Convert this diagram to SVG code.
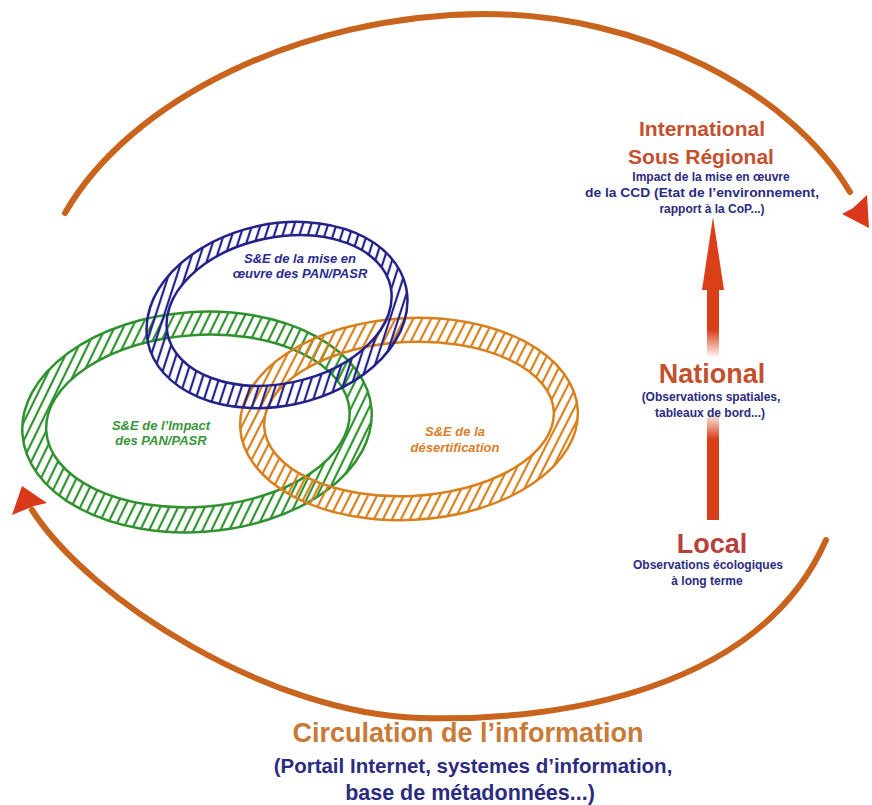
<svg xmlns="http://www.w3.org/2000/svg" width="872" height="805" viewBox="0 0 872 805">
<defs>
<style>
.arc{fill:none;stroke:#c9641f;stroke-width:6;stroke-linecap:round}
.head{fill:#d9381a}
.lvl{font-family:"Liberation Sans",Arial,sans-serif;font-weight:bold;text-anchor:middle}
.big{fill:#c4502e}
.desc{fill:#2b2b80;font-size:12px}
.ring-lbl{font-family:"Liberation Sans",Arial,sans-serif;font-weight:bold;font-style:italic;font-size:13px;text-anchor:middle}
</style>
<pattern id="hb" patternUnits="userSpaceOnUse" width="8" height="8" patternTransform="rotate(30)"><line x1="2" y1="0" x2="2" y2="8" stroke="#22228a" stroke-width="2.2"/></pattern>
<pattern id="hg" patternUnits="userSpaceOnUse" width="8" height="8" patternTransform="rotate(30)"><line x1="2" y1="0" x2="2" y2="8" stroke="#2f922f" stroke-width="2.2"/></pattern>
<pattern id="ho" patternUnits="userSpaceOnUse" width="8" height="8" patternTransform="rotate(30)"><line x1="2" y1="0" x2="2" y2="8" stroke="#d8801e" stroke-width="2.2"/></pattern>
<linearGradient id="fadeDown" x1="0" y1="0" x2="0" y2="1"><stop offset="0.6" stop-color="#d9401a"/><stop offset="1" stop-color="#d9401a" stop-opacity="0"/></linearGradient>
<linearGradient id="fadeUp" x1="0" y1="0" x2="0" y2="1"><stop offset="0" stop-color="#d9401a" stop-opacity="0"/><stop offset="0.25" stop-color="#d9401a"/></linearGradient>
</defs>
<rect width="872" height="805" fill="#ffffff"/>

<g id="connectors">
<path class="arc" d="M65,213 C130,100 300,15 485,14 C640,14 790,90 850,192"/>
<path class="head" d="M869,228 L842,214 L853,208 L867,195 Z"/>
<path class="arc" d="M826,540 C760,690 560,722 420,718 C270,714 90,600 32,510"/>
<path class="head" d="M22,486 L47,503 L34,506 L12,515 Z"/>
<rect x="707" y="288" width="12" height="70" fill="url(#fadeDown)"/>
<rect x="707" y="412" width="12" height="108" fill="url(#fadeUp)"/>
<path d="M713,217 L724,290 L702,290 Z" fill="#d9401a"/>
</g>

<g id="ring-green" transform="rotate(-4 197 422)">
<path d="M22,422 a175,110 0 1,0 350,0 a175,110 0 1,0 -350,0 Z M46,421 a152,86 0 1,0 304,0 a152,86 0 1,0 -304,0 Z" fill="url(#hg)" fill-rule="evenodd" stroke="#2f922f" stroke-width="2.5"/>
</g>
<g id="ring-orange" transform="rotate(-3 409 419)">
<path d="M240,419 a169,101 0 1,0 338,0 a169,101 0 1,0 -338,0 Z M264,419 a145,77 0 1,0 290,0 a145,77 0 1,0 -290,0 Z" fill="url(#ho)" fill-rule="evenodd" stroke="#d8801e" stroke-width="2.5"/>
</g>
<g id="ring-blue" transform="rotate(-12 277 315)">
<path d="M145,315 a132,91 0 1,0 264,0 a132,91 0 1,0 -264,0 Z M166,311 a114,73 0 1,0 228,0 a114,73 0 1,0 -228,0 Z" fill="url(#hb)" fill-rule="evenodd" stroke="#22228a" stroke-width="2.5"/>
</g>

<g id="label-blue" class="ring-lbl" fill="#2b2b90">
<text x="300" y="263">S&amp;E de la mise en</text>
<text x="300" y="278">œuvre des PAN/PASR</text>
</g>
<g id="label-green" class="ring-lbl" fill="#3a963a">
<text x="161" y="430">S&amp;E de l’Impact</text>
<text x="161" y="445">des PAN/PASR</text>
</g>
<g id="label-orange" class="ring-lbl" fill="#d8802a">
<text x="455" y="436">S&amp;E de la</text>
<text x="455" y="452">désertification</text>
</g>

<g id="level-international" class="lvl">
<text class="big" x="702" y="136" font-size="21">International</text>
<text class="big" x="701" y="164" font-size="21">Sous Régional</text>
<text class="desc" x="711" y="181">Impact de la mise en œuvre</text>
<text class="desc" x="702" y="197" textLength="234" lengthAdjust="spacingAndGlyphs">de la CCD (Etat de l’environnement,</text>
<text class="desc" x="712" y="213">rapport à la CoP...)</text>
</g>
<g id="level-national" class="lvl">
<text class="big" x="712" y="383" font-size="27">National</text>
<text class="desc" x="711" y="401" font-size="14">(Observations spatiales,</text>
<text class="desc" x="710" y="417" font-size="14">tableaux de bord...)</text>
</g>
<g id="level-local" class="lvl">
<text x="712" y="553" font-size="27" fill="#b8403a">Local</text>
<text class="desc" x="708" y="569" font-size="13">Observations écologiques</text>
<text class="desc" x="707" y="585" font-size="13">à long terme</text>
</g>
<g id="circulation" class="lvl">
<text x="468" y="742" font-size="27" fill="#c87a36">Circulation de l’information</text>
<text x="473" y="773" font-size="20.5" fill="#2b2b80">(Portail Internet, systemes d’information,</text>
<text x="470" y="800" font-size="21.5" fill="#2b2b80">base de métadonnées...)</text>
</g>
</svg>
